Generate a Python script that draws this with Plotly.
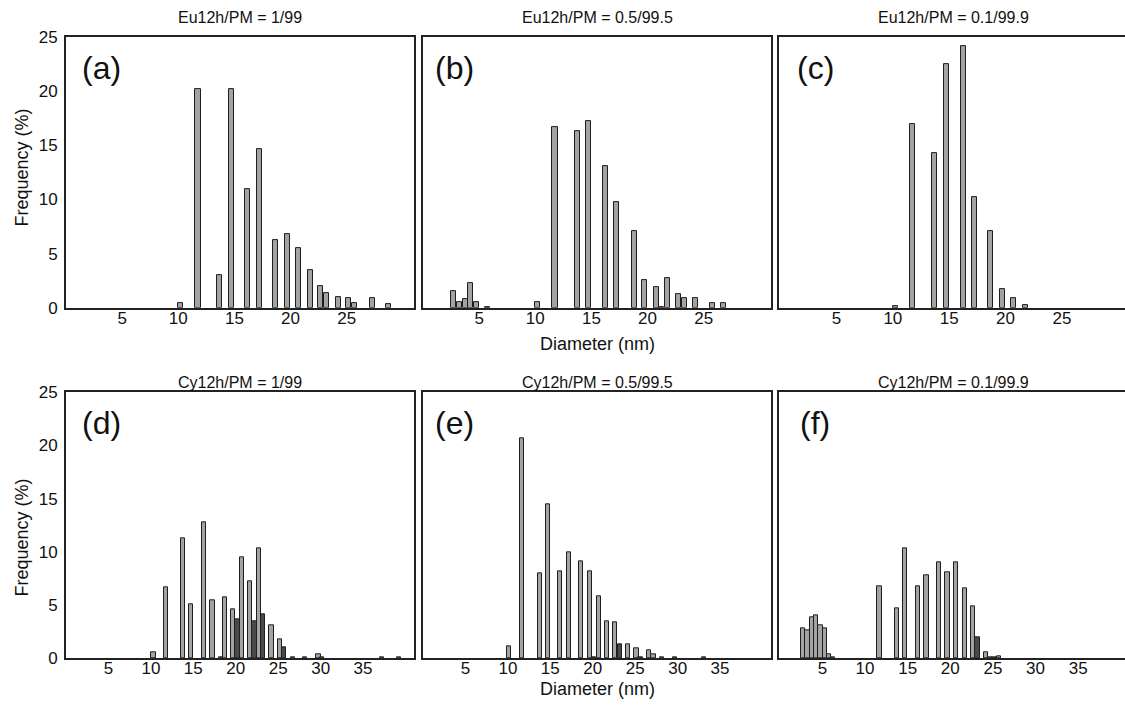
import plotly.graph_objects as go

# ---------------- data ----------------
titles = ["Eu12h/PM = 1/99", "Eu12h/PM = 0.5/99.5", "Eu12h/PM = 0.1/99.9",
          "Cy12h/PM = 1/99", "Cy12h/PM = 0.5/99.5", "Cy12h/PM = 0.1/99.9"]
panel_labels = ["(a)", "(b)", "(c)", "(d)", "(e)", "(f)"]

a_x = [10.2, 11.76, 13.7, 14.76, 16.2, 17.26, 18.7, 19.76, 20.7, 21.76, 22.7, 23.2, 24.26, 25.2, 25.7, 27.3, 28.7]
a_y = [0.46, 20.2, 3.06, 20.2, 11.0, 14.7, 6.25, 6.77, 5.5, 3.46, 2.0, 1.35, 1.0, 0.86, 0.46, 0.86, 0.3]

b_x = [2.74, 3.28, 3.78, 4.26, 4.76, 5.75, 10.24, 11.76, 13.78, 14.76, 16.28, 17.26, 18.8, 19.76, 20.77, 21.25, 21.76, 22.74, 23.28, 24.28, 25.77, 26.78]
b_y = [1.56, 0.55, 0.77, 2.27, 0.55, 0.1, 0.55, 16.7, 16.36, 17.25, 13.1, 9.77, 7.08, 2.54, 1.93, 0.1, 2.73, 1.26, 0.92, 0.92, 0.4, 0.4]

c_x = [10.24, 11.73, 13.71, 14.75, 16.23, 17.27, 18.69, 19.76, 20.74, 21.74]
c_y = [0.15, 16.97, 14.28, 22.55, 24.17, 10.26, 7.08, 1.72, 0.89, 0.28]

d_x = [10.3, 11.78, 13.75, 14.76, 16.26, 17.27, 18.3, 18.73, 19.7, 20.73, 21.7, 22.73, 24.2, 25.2, 26.7, 28.2, 29.74, 30.2, 37.2, 39.2]
d_y = [0.56, 6.62, 11.27, 5.02, 12.77, 5.46, 0.1, 5.74, 4.56, 9.46, 7.24, 10.36, 3.03, 1.72, 0.06, 0.06, 0.34, 0.1, 0.1, 0.1]
d_dark_x = [20.2, 22.2, 23.24, 25.7]
d_dark_y = [3.65, 3.46, 4.12, 0.97]

e_x = [10.17, 11.7, 13.74, 14.75, 16.15, 17.19, 18.65, 19.7, 20.72, 21.65, 22.65, 24.13, 25.15, 26.65, 27.15, 28.15, 29.7, 33.1]
e_y = [1.09, 20.63, 7.96, 14.45, 8.2, 9.99, 9.14, 8.2, 5.84, 3.46, 3.34, 1.28, 0.94, 0.69, 0.31, 0.06, 0.06, 0.06]
e_dark_x = [20.15, 23.19, 25.62]
e_dark_y = [0.1, 1.28, 0.1]

f_x = [2.71, 3.25, 3.8, 4.27, 4.78, 5.29, 5.76, 6.27, 11.69, 13.72, 14.7, 16.24, 17.2, 18.67, 19.68, 20.7, 21.69, 22.67, 24.16, 24.67, 25.68]
f_y = [2.78, 2.62, 3.84, 4.0, 3.12, 2.81, 0.34, 0.03, 6.71, 4.68, 10.36, 6.71, 7.74, 8.96, 8.08, 8.96, 6.52, 4.87, 0.56, 0.03, 0.19]
f_dark_x = [23.18, 25.18]
f_dark_y = [1.94, 0.03]

top_ticks = [5, 10, 15, 20, 25]
bottom_ticks = [5, 10, 15, 20, 25, 30, 35]
y_ticks = [0, 5, 10, 15, 20, 25]

# ---------------- figure ----------------
W, H = 1125, 706
FONT = "Liberation Sans, Arial, sans-serif"
LIGHT = "#a3a3a3"
DARK = "#4a4a4a"
EDGE = "#1e1e1e"
# measured mapping of the photographed page: shot_y = SY * fig_y + DY
SY, DY = 0.978, 6.75


def px_x(X):
    return X / W


def px_y(Y):
    return 1 - ((Y - DY) / SY) / H


panels = [
    (a_x, a_y, [], []), (b_x, b_y, [], []), (c_x, c_y, [], []),
    (d_x, d_y, d_dark_x, d_dark_y), (e_x, e_y, e_dark_x, e_dark_y), (f_x, f_y, f_dark_x, f_dark_y),
]

# target pixel boxes of the panels (left, right) and (top, bottom)
col_px = [(66, 414), (423, 771), (779, 1125)]
row_px = [(35, 307), (392, 659)]
label_dx = [35, 31, 36]
title_y = [15, 382]
x_ranges = [[0, 31], [0, 31], [-0.1, 30.6], [0, 41], [0, 41], [-0.1, 40.5]]

fig = go.Figure()
layout = dict(width=W, height=H, margin=dict(l=0, r=0, t=0, b=0),
              plot_bgcolor="white", paper_bgcolor="white", showlegend=False,
              bargap=0, barmode="overlay", font=dict(family=FONT, color="#111"))
annotations = []

for i, (px, py, dx, dy) in enumerate(panels):
    r, c = divmod(i, 3)
    k = "" if i == 0 else str(i + 1)
    xa, ya = "x" + k, "y" + k
    bw = 0.45 if r == 0 else 0.5
    fig.add_trace(go.Bar(x=px, y=py, width=bw, xaxis=xa, yaxis=ya,
                         marker=dict(color=LIGHT, line=dict(color=EDGE, width=1))))
    if dx:
        fig.add_trace(go.Bar(x=dx, y=dy, width=bw, xaxis=xa, yaxis=ya,
                             marker=dict(color=DARK, line=dict(color=EDGE, width=1))))
    l, rr = col_px[c]
    t, b = row_px[r]
    layout["xaxis" + k] = dict(
        domain=[px_x(l), min(px_x(rr), 1.0)], range=x_ranges[i], anchor=ya,
        tickvals=top_ticks if r == 0 else bottom_ticks, ticks="", ticklabelstandoff=-6,
        showgrid=False, zeroline=False, showline=True, linecolor="#222", linewidth=2,
        mirror=True, tickfont=dict(size=17, color="#111"), fixedrange=True)
    layout["yaxis" + k] = dict(
        domain=[px_y(b), px_y(t)], range=[0, 25], anchor=xa,
        tickvals=y_ticks, ticks="", showticklabels=(c == 0), ticklabelstandoff=3,
        showgrid=False, zeroline=False, showline=True, linecolor="#222", linewidth=2,
        mirror=(c != 2), tickfont=dict(size=17, color="#111"), fixedrange=True)
    # subplot title
    cx = (l + rr) / 2 if c < 2 else (779 + 1127) / 2
    annotations.append(dict(text=titles[i], x=px_x(cx), y=px_y(title_y[r]),
                            xref="paper", yref="paper",
                            showarrow=False, font=dict(size=16, color="#111"),
                            xanchor="center", yanchor="middle"))
    # panel label
    annotations.append(dict(text=panel_labels[i], x=px_x(l + label_dx[c]), y=px_y(t + 31),
                            xref="paper", yref="paper", showarrow=False,
                            font=dict(size=32, color="#111"), xanchor="center", yanchor="middle"))

# axis titles
freq_y = [166, 538]
for r in range(2):
    annotations.append(dict(text="Frequency (%)", x=px_x(22), y=px_y(freq_y[r]),
                            xref="paper", yref="paper", xanchor="center", yanchor="middle",
                            showarrow=False, textangle=-90, font=dict(size=18, color="#111")))
for yy in (343, 690):
    annotations.append(dict(text="Diameter (nm)", x=px_x(597), y=px_y(yy), xref="paper", yref="paper",
                            xanchor="center", yanchor="middle",
                            showarrow=False, font=dict(size=18, color="#111")))

layout["annotations"] = annotations
fig.update_layout(**layout)
fig.write_html("out.html", config={"displayModeBar": False},
               post_script="document.body.style.margin='0';document.body.style.overflow='hidden';")
